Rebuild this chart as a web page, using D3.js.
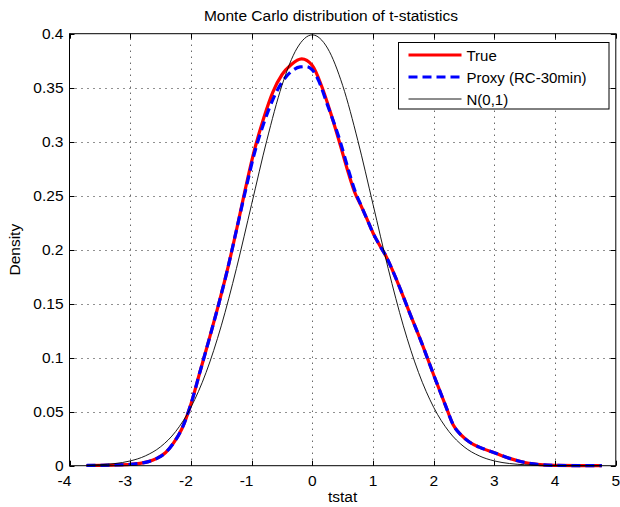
<!DOCTYPE html>
<html>
<head>
<meta charset="utf-8">
<script src="https://cdn.jsdelivr.net/npm/d3@7"></script>
<style>
    body { margin: 0; background: #fff; }
    svg text { font-family: "Liberation Sans", Arial, sans-serif; font-size: 15.5px; fill: #000; }
</style>
</head>
<body>
<div id="chart"></div>
<script>
// values
var trueT = [-3.72, -3.3, -3.0, -2.84, -2.7, -2.56, -2.42, -2.29, -2.15, -2.0, -1.85, -1.7, -1.55, -1.4, -1.25,
    -1.1, -0.95, -0.8, -0.65, -0.5, -0.35, -0.175, 0.0, 0.15, 0.3, 0.45, 0.6, 0.7, 0.8, 0.9, 1.0, 1.1, 1.2,
    1.4, 1.6, 1.8, 2.0, 2.2, 2.32, 2.45, 2.6, 2.75, 3.0, 3.25, 3.5, 3.75, 4.0, 4.4, 4.77];
var trueDensity = [0.0002, 0.0006, 0.0012, 0.0022, 0.0038, 0.0068, 0.012, 0.0207, 0.034, 0.057, 0.087, 0.117, 0.148, 0.181, 0.218,
    0.257, 0.293, 0.322, 0.346, 0.362, 0.3712, 0.3766, 0.3705, 0.352, 0.327, 0.299, 0.270, 0.253, 0.241, 0.2285, 0.2155, 0.205, 0.1955,
    0.1705, 0.142, 0.114, 0.084, 0.055, 0.038, 0.0285, 0.0215, 0.0172, 0.012, 0.0068, 0.003, 0.001, 0.0003, 0.0001, 0.0];

var proxyT = [-3.72, -3.3, -3.0, -2.84, -2.7, -2.56, -2.42, -2.29, -2.15, -2.0, -1.85, -1.7, -1.55, -1.4, -1.25,
    -1.1, -0.95, -0.8, -0.65, -0.5, -0.35, -0.2, -0.1, 0.0, 0.1, 0.25, 0.45, 0.6, 0.7, 0.8, 0.9, 1.0, 1.1, 1.2,
    1.4, 1.6, 1.8, 2.0, 2.2, 2.32, 2.45, 2.6, 2.75, 3.0, 3.25, 3.5, 3.75, 4.0, 4.4, 4.77];
var proxyDensity = [0.0002, 0.0006, 0.0012, 0.0022, 0.0038, 0.0068, 0.012, 0.0207, 0.034, 0.057, 0.087, 0.117, 0.148, 0.181, 0.218,
    0.255, 0.29, 0.317, 0.339, 0.355, 0.3648, 0.3692, 0.3695, 0.3665, 0.357, 0.334, 0.302, 0.273, 0.255, 0.2415, 0.2285, 0.2155, 0.205, 0.1955,
    0.1705, 0.142, 0.114, 0.084, 0.055, 0.038, 0.0285, 0.0215, 0.0172, 0.012, 0.0068, 0.003, 0.001, 0.0003, 0.0001, 0.0];

var normT = [-3.72, -3.5, -3.25, -3.0, -2.75, -2.5, -2.25, -2.0, -1.75, -1.5, -1.25, -1.0, -0.75, -0.5, -0.25, 0,
    0.25, 0.5, 0.75, 1.0, 1.25, 1.5, 1.75, 2.0, 2.25, 2.5, 2.75, 3.0, 3.25, 3.5, 3.75, 4.0, 4.5, 4.77];
var normDensity = [0.0004, 0.0009, 0.0020, 0.0044, 0.0091, 0.0175, 0.0317, 0.0540, 0.0863, 0.1295, 0.1826, 0.2420, 0.3011, 0.3521, 0.3867, 0.3989,
    0.3867, 0.3521, 0.3011, 0.2420, 0.1826, 0.1295, 0.0863, 0.0540, 0.0317, 0.0175, 0.0091, 0.0044, 0.0020, 0.0009, 0.0004, 0.0001, 0.0, 0.0];

var xTicks = [-4, -3, -2, -1, 0, 1, 2, 3, 4, 5];
var yTicks = [0, 0.05, 0.1, 0.15, 0.2, 0.25, 0.3, 0.35, 0.4];
var yTickLabels = ['0', '0.05', '0.1', '0.15', '0.2', '0.25', '0.3', '0.35', '0.4'];
var seriesNames = ['True', 'Proxy (RC-30min)', 'N(0,1)'];

var svgWidth = 620, svgHeight = 507;
var plotLeft = 69.5, plotRight = 615.8, plotTop = 33.7, plotBottom = 465.7;

var svg = d3.select('#chart')
    .append('svg')
    .attr('width', svgWidth)
    .attr('height', svgHeight);

var x = d3.scaleLinear().domain([-4, 5]).range([plotLeft, plotRight]);
var y = d3.scaleLinear().domain([0, 0.4]).range([plotBottom, plotTop]);

// grid, dotted like matlab's ':'
var grid = svg.append('g').attr('class', 'grid')
    .style('stroke', '#222')
    .style('stroke-width', 1)
    .style('stroke-dasharray', '1,5');
grid.selectAll('line.gx')
    .data(xTicks.slice(1, -1))
    .enter().append('line')
    .attr('x1', function(d) { return Math.round(x(d)) + 0.5; })
    .attr('x2', function(d) { return Math.round(x(d)) + 0.5; })
    .attr('y1', plotBottom)
    .attr('y2', plotTop);
grid.selectAll('line.gy')
    .data(yTicks.slice(1, -1))
    .enter().append('line')
    .attr('y1', function(d) { return Math.round(y(d)) + 0.5; })
    .attr('y2', function(d) { return Math.round(y(d)) + 0.5; })
    .attr('x1', plotLeft)
    .attr('x2', plotRight);

// curves
function makeLine(ts, ds) {
    return d3.line()
        .x(function(i) { return x(ts[i]); })
        .y(function(i) { return y(ds[i]); })
        .curve(d3.curveMonotoneX)(d3.range(ts.length));
}

svg.append('path')
    .attr('d', makeLine(trueT, trueDensity))
    .style('fill', 'none')
    .style('stroke', '#ff0000')
    .style('stroke-width', 3.2);

svg.append('path')
    .attr('d', makeLine(proxyT, proxyDensity))
    .style('fill', 'none')
    .style('stroke', '#0000ff')
    .style('stroke-width', 3.2)
    .style('stroke-dasharray', '9,5');

svg.append('path')
    .attr('d', makeLine(normT, normDensity))
    .style('fill', 'none')
    .style('stroke', '#000')
    .style('stroke-width', 0.9);

// axes box with inward ticks on all four sides
var tickLen = 5;
var axes = svg.append('g').style('stroke', '#000').style('stroke-width', 1);
axes.append('rect')
    .attr('x', plotLeft)
    .attr('y', plotTop)
    .attr('width', plotRight - plotLeft)
    .attr('height', plotBottom - plotTop)
    .style('fill', 'none');

xTicks.forEach(function(t) {
    var px = Math.round(x(t)) + 0.5;
    axes.append('line').attr('x1', px).attr('x2', px).attr('y1', plotBottom).attr('y2', plotBottom - tickLen);
    axes.append('line').attr('x1', px).attr('x2', px).attr('y1', plotTop).attr('y2', plotTop + tickLen);
});
yTicks.forEach(function(t) {
    var py = Math.round(y(t)) + 0.5;
    axes.append('line').attr('y1', py).attr('y2', py).attr('x1', plotLeft).attr('x2', plotLeft + tickLen);
    axes.append('line').attr('y1', py).attr('y2', py).attr('x1', plotRight).attr('x2', plotRight - tickLen);
});

svg.selectAll('text.xtick')
    .data(xTicks)
    .enter().append('text')
    .attr('class', 'xtick')
    .attr('text-anchor', 'middle')
    .attr('x', function(d) { return x(d) + (d < 0 ? -5 : 0); })
    .attr('y', plotBottom + 20)
    .text(function(d) { return String(d); });

svg.selectAll('text.ytick')
    .data(yTicks)
    .enter().append('text')
    .attr('class', 'ytick')
    .attr('text-anchor', 'end')
    .attr('x', plotLeft - 6)
    .attr('y', function(d) { return y(d) + 5; })
    .text(function(d, i) { return yTickLabels[i]; });

svg.append('text')
    .attr('text-anchor', 'middle')
    .attr('x', 331)
    .attr('y', 21)
    .text('Monte Carlo distribution of t-statistics');

svg.append('text')
    .attr('text-anchor', 'middle')
    .attr('x', (plotLeft + plotRight) / 2)
    .attr('y', 502)
    .text('tstat');

svg.append('text')
    .attr('text-anchor', 'middle')
    .attr('transform', 'translate(20,' + (plotTop + plotBottom) / 2 + ') rotate(-90)')
    .text('Density');

// legend
var legend = svg.append('g').attr('transform', 'translate(398.5,42.5)');
legend.append('rect')
    .attr('width', 210.5)
    .attr('height', 66.5)
    .style('fill', '#fff')
    .style('stroke', '#000')
    .style('stroke-width', 1);

var legendStyles = [
    { stroke: '#ff0000', width: 3.2, dash: null },
    { stroke: '#0000ff', width: 3.2, dash: '9,5' },
    { stroke: '#000', width: 0.9, dash: null }
];
var legendItem = legend.selectAll('g')
    .data(seriesNames)
    .enter().append('g')
    .attr('transform', function(d, i) { return 'translate(0,' + (12.5 + i * 22) + ')'; });
legendItem.append('line')
    .attr('x1', 10)
    .attr('x2', 63)
    .style('stroke', function(d, i) { return legendStyles[i].stroke; })
    .style('stroke-width', function(d, i) { return legendStyles[i].width; })
    .style('stroke-dasharray', function(d, i) { return legendStyles[i].dash; });
legendItem.append('text')
    .attr('x', 68)
    .attr('y', 5.5)
    .style('font-size', '15px')
    .text(function(d) { return d; });
</script>
</body>
</html>
